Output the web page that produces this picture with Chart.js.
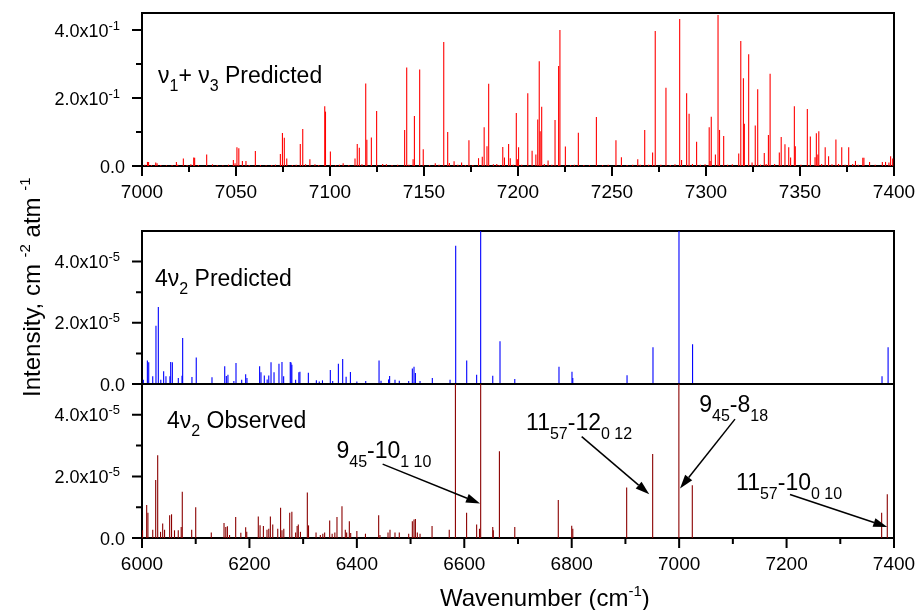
<!DOCTYPE html>
<html>
<head>
<meta charset="utf-8">
<script src="https://cdn.jsdelivr.net/npm/chart.js@4.4.1/dist/chart.umd.min.js"></script>
<style>
  html, body { margin: 0; padding: 0; background: #fff; }
  #figure { position: relative; width: 917px; height: 610px; overflow: hidden; background: #fff; }
  #figure canvas { position: absolute; left: 0; top: 0; }
</style>
</head>
<body>
<div id="figure">
  <canvas id="topPanel" width="917" height="610"></canvas>
  <canvas id="predPanel" width="917" height="610"></canvas>
  <canvas id="obsPanel" width="917" height="610"></canvas>
</div>
<script>
// nu1 + nu3 predicted line list (cm-1, intensity)
const topWave = [7001.5, 7002.9, 7003.5, 7005, 7007.3, 7008, 7010, 7013, 7016, 7018.3, 7019, 7022, 7024, 7026, 7027.5, 7028,
  7030, 7034.4, 7037.5, 7040, 7043, 7046, 7048.6, 7049.5, 7050.5, 7051.5, 7053.4, 7055.3, 7057, 7060.3, 7063, 7066,
  7069, 7071, 7073.6, 7074.7, 7075.7, 7077, 7080, 7082, 7084.2, 7085.5, 7087, 7089.3, 7092, 7094, 7097.2, 7097.6,
  7100.2, 7103, 7105, 7107, 7110, 7113.3, 7114.5, 7115.6, 7117, 7119, 7119.6, 7122, 7124.8, 7128, 7130, 7133,
  7136, 7139.7, 7140.8, 7142, 7144.2, 7144.9, 7147.7, 7149.6, 7153, 7156, 7158, 7160.5, 7162.6, 7163.5, 7166, 7168,
  7170, 7172, 7173.9, 7176, 7179, 7181, 7182, 7183.5, 7184.4, 7186.9, 7188.7, 7190, 7191.9, 7192.8, 7195, 7195.9,
  7197.5, 7199.1, 7199.8, 7200.3, 7202, 7205.2, 7207.5, 7209.5, 7210.5, 7211.3, 7211.8, 7212.6, 7214, 7216, 7218, 7219.7,
  7221.6, 7222.3, 7225.2, 7228, 7230, 7232.1, 7235, 7238, 7241.7, 7245, 7248, 7252.1, 7255, 7258, 7261, 7263.7,
  7265, 7267.4, 7269.5, 7271.6, 7273, 7276, 7278.7, 7281, 7283.5, 7286, 7287, 7289.7, 7291, 7292.8, 7295, 7297,
  7299.5, 7301.7, 7302.2, 7302.8, 7305, 7306.4, 7307.2, 7309.4, 7311.5, 7314, 7317.4, 7318.5, 7319.9, 7320.4, 7322.7, 7324.5,
  7326.2, 7327.5, 7329, 7331, 7332, 7333.2, 7334.1, 7336.5, 7339, 7340, 7342, 7344, 7345, 7347, 7347.5, 7350.5,
  7353.9, 7355.5, 7358, 7358.7, 7359.5, 7360, 7361.5, 7363.4, 7365.2, 7367, 7369.1, 7370.5, 7372.2, 7374, 7375.9, 7378,
  7379.5, 7381, 7383.4, 7384, 7387, 7390, 7393.8, 7395.5, 7397.3, 7398.2, 7399.3];
const topInt = [0.004, 0.012, 0.012, 0.003, 0.010, 0.008, 0.003, 0.002, 0.003, 0.012, 0.004, 0.022, 0.003, 0.005, 0.025, 0.024,
  0.003, 0.034, 0.005, 0.003, 0.002, 0.004, 0.018, 0.008, 0.055, 0.052, 0.015, 0.015, 0.003, 0.044, 0.003, 0.002,
  0.003, 0.004, 0.035, 0.097, 0.083, 0.022, 0.003, 0.004, 0.065, 0.109, 0.005, 0.020, 0.005, 0.003, 0.176, 0.160,
  0.043, 0.003, 0.004, 0.008, 0.003, 0.022, 0.065, 0.054, 0.005, 0.243, 0.077, 0.084, 0.162, 0.006, 0.005, 0.003,
  0.004, 0.106, 0.290, 0.004, 0.020, 0.147, 0.284, 0.049, 0.003, 0.008, 0.004, 0.365, 0.100, 0.009, 0.014, 0.004,
  0.010, 0.003, 0.076, 0.003, 0.023, 0.027, 0.114, 0.058, 0.242, 0.005, 0.006, 0.003, 0.056, 0.025, 0.065, 0.023,
  0.004, 0.156, 0.020, 0.055, 0.004, 0.214, 0.045, 0.034, 0.137, 0.308, 0.102, 0.174, 0.006, 0.016, 0.004, 0.135,
  0.294, 0.400, 0.057, 0.003, 0.004, 0.098, 0.003, 0.002, 0.144, 0.003, 0.004, 0.076, 0.026, 0.003, 0.004, 0.020,
  0.004, 0.106, 0.004, 0.040, 0.397, 0.004, 0.230, 0.003, 0.005, 0.432, 0.018, 0.214, 0.154, 0.006, 0.071, 0.004,
  0.005, 0.114, 0.015, 0.145, 0.034, 0.444, 0.106, 0.088, 0.004, 0.005, 0.037, 0.368, 0.258, 0.124, 0.329, 0.010,
  0.119, 0.226, 0.004, 0.038, 0.006, 0.091, 0.271, 0.006, 0.040, 0.085, 0.064, 0.055, 0.025, 0.176, 0.058, 0.004,
  0.168, 0.087, 0.026, 0.096, 0.034, 0.102, 0.006, 0.055, 0.029, 0.005, 0.078, 0.006, 0.055, 0.004, 0.055, 0.006,
  0.015, 0.004, 0.024, 0.024, 0.012, 0.004, 0.012, 0.012, 0.010, 0.029, 0.022];

// 4nu2 predicted line list
const predWave = [6002.5, 6010, 6012.5, 6020, 6026, 6030.4, 6035, 6040.3, 6044.6, 6052, 6053.4, 6056.5, 6067.6, 6074.5, 6075.7, 6093,
  6101, 6130.3, 6154, 6157, 6160, 6171, 6175, 6185.6, 6193, 6195.4, 6219, 6221.5, 6227.7, 6233, 6236, 6240.2,
  6245.8, 6255, 6260.6, 6263.7, 6276, 6277.5, 6279, 6286, 6292, 6294, 6309.7, 6324.6, 6330, 6336, 6350.6, 6355,
  6365.6, 6373.6, 6380, 6388, 6400, 6416.5, 6441.3, 6445, 6459, 6461, 6471, 6479, 6496.5, 6503.3, 6506.4, 6509,
  6517.6, 6540.5, 6573.5, 6584, 6604.5, 6623, 6630.5, 6653, 6666.5, 6694, 6776.3, 6800.5, 6802, 6903, 6951.3, 6999.7,
  7025, 7377.7, 7389];
const predInt = [0.14e-5, 0.77e-5, 0.71e-5, 0.25e-5, 1.90e-5, 2.52e-5, 0.14e-5, 0.42e-5, 0.25e-5, 0.25e-5, 0.72e-5, 0.71e-5, 0.20e-5, 0.27e-5, 1.50e-5, 0.23e-5,
  0.87e-5, 0.22e-5, 0.58e-5, 0.26e-5, 0.30e-5, 0.10e-5, 0.69e-5, 0.14e-5, 0.32e-5, 0.20e-5, 0.58e-5, 0.38e-5, 0.28e-5, 0.15e-5, 0.28e-5, 0.71e-5,
  0.38e-5, 0.66e-5, 0.72e-5, 0.25e-5, 0.72e-5, 0.70e-5, 0.63e-5, 0.14e-5, 0.38e-5, 0.40e-5, 0.37e-5, 0.12e-5, 0.08e-5, 0.12e-5, 0.46e-5, 0.10e-5,
  0.66e-5, 0.82e-5, 0.24e-5, 0.39e-5, 0.08e-5, 0.10e-5, 0.77e-5, 0.11e-5, 0.15e-5, 0.26e-5, 0.14e-5, 0.11e-5, 0.10e-5, 0.51e-5, 0.56e-5, 0.36e-5,
  0.10e-5, 0.20e-5, 0.14e-5, 4.52e-5, 0.77e-5, 0.30e-5, 5.6e-5, 0.27e-5, 1.40e-5, 0.16e-5, 0.56e-5, 0.40e-5, 0.20e-5, 0.29e-5, 1.20e-5, 6.0e-5,
  1.30e-5, 0.25e-5, 1.20e-5];

// 4nu2 observed line list
const obsWave = [6001, 6008.7, 6011, 6020, 6025.5, 6029.2, 6034.5, 6038.5, 6042, 6051.5, 6055, 6060.5, 6067.5, 6073, 6075, 6092.5,
  6100, 6129, 6152.7, 6156, 6159, 6163, 6174.4, 6184, 6193, 6195, 6216.5, 6219.8, 6226, 6232.7, 6236, 6239,
  6243.4, 6252.7, 6258, 6260.6, 6264, 6275, 6279, 6286, 6288.8, 6291, 6295, 6307.8, 6310, 6324, 6332, 6336.6,
  6340, 6349.4, 6354, 6359, 6363, 6372.3, 6378.5, 6381, 6386, 6388.5, 6400, 6416, 6440.6, 6443, 6458, 6461.7,
  6471, 6479, 6496.5, 6503.3, 6506.4, 6509, 6512.6, 6517.6, 6540, 6572, 6583.5, 6604.3, 6623, 6628.3, 6630.5, 6653,
  6654, 6665.4, 6694, 6775, 6800, 6802, 6902.3, 6950.7, 6999.5, 7024.5, 7377, 7387.5];
const obsInt = [0.25e-5, 1.07e-5, 0.82e-5, 0.27e-5, 1.88e-5, 2.69e-5, 0.20e-5, 0.47e-5, 0.27e-5, 0.74e-5, 0.77e-5, 0.25e-5, 0.25e-5, 0.36e-5, 1.50e-5, 0.27e-5,
  1.00e-5, 0.18e-5, 0.49e-5, 0.36e-5, 0.38e-5, 0.10e-5, 0.68e-5, 0.17e-5, 0.35e-5, 0.20e-5, 0.70e-5, 0.41e-5, 0.39e-5, 0.27e-5, 0.30e-5, 0.70e-5,
  0.44e-5, 0.30e-5, 0.98e-5, 0.25e-5, 0.30e-5, 0.82e-5, 0.85e-5, 0.18e-5, 0.39e-5, 0.44e-5, 0.20e-5, 1.48e-5, 0.41e-5, 0.18e-5, 0.10e-5, 0.14e-5,
  0.18e-5, 0.57e-5, 0.14e-5, 0.18e-5, 0.68e-5, 1.03e-5, 0.27e-5, 0.18e-5, 0.54e-5, 0.16e-5, 0.23e-5, 0.14e-5, 0.74e-5, 0.10e-5, 0.18e-5, 0.27e-5,
  0.18e-5, 0.18e-5, 0.14e-5, 0.54e-5, 0.60e-5, 0.62e-5, 0.18e-5, 0.14e-5, 0.39e-5, 0.27e-5, 5.8e-5, 0.82e-5, 0.44e-5, 0.30e-5, 6.2e-5, 0.36e-5,
  0.25e-5, 2.82e-5, 0.36e-5, 1.23e-5, 0.40e-5, 0.30e-5, 1.64e-5, 2.73e-5, 6.0e-5, 1.71e-5, 0.82e-5, 1.42e-5];

// axis ticks
const topXTicks = [7000, 7050, 7100, 7150, 7200, 7250, 7300, 7350, 7400];
const topXMinor = [7025, 7075, 7125, 7175, 7225, 7275, 7325, 7375];
const topYTicks = [0, 0.2, 0.4];
const topYMinor = [0.1, 0.3];
const lowXTicks = [6000, 6200, 6400, 6600, 6800, 7000, 7200, 7400];
const lowXMinor = [6100, 6300, 6500, 6700, 6900, 7100, 7300];
const lowYTicks = [0, 2e-5, 4e-5];
const lowYMinor = [1e-5, 3e-5];

// line assignments: label anchor, arrow start, arrow tip (wavenumber, intensity)
const assignments = [
  { parts: [['9', ''], ['45', 'sub'], ['-10', ''], ['1 10', 'sub']], at: [6362, 2.6e-5], from: [6448, 2.4e-5], to: [6629.3, 1.12e-5] },
  { parts: [['11', ''], ['57', 'sub'], ['-12', ''], ['0 12', 'sub']], at: [6715, 3.51e-5], from: [6818.6, 3.29e-5], to: [6944.4, 1.42e-5] },
  { parts: [['9', ''], ['45', 'sub'], ['-8', ''], ['18', 'sub']], at: [7037.5, 4.1e-5], from: [7104, 3.86e-5], to: [7001.6, 1.61e-5] },
  { parts: [['11', ''], ['57', 'sub'], ['-10', ''], ['0 10', 'sub']], at: [7106, 1.55e-5], from: [7206.4, 1.41e-5], to: [7387.5, 0.36e-5] }
];

const FONT = '"Liberation Sans", Arial, Helvetica, sans-serif';

function richWidth(ctx, parts, size, small) {
  let w = 0;
  for (const [t, k] of parts) {
    ctx.font = (k ? small : size) + 'px ' + FONT;
    w += ctx.measureText(t).width;
  }
  return w;
}

// draws text runs with sub/superscripts, left aligned at x, baseline y
function drawRich(ctx, x, y, parts, size, small, drop, rise) {
  let cx = x;
  ctx.textAlign = 'left';
  ctx.textBaseline = 'alphabetic';
  for (const [t, k] of parts) {
    ctx.font = (k ? small : size) + 'px ' + FONT;
    const dy = k === 'sub' ? drop : (k === 'sup' ? -rise : 0);
    ctx.fillText(t, cx, y + dy);
    cx += ctx.measureText(t).width;
  }
  return cx;
}

function drawArrow(ctx, x1, y1, x2, y2) {
  const ang = Math.atan2(y2 - y1, x2 - x1);
  const len = 14, half = 4.5;
  const bx = x2 - len * Math.cos(ang), by = y2 - len * Math.sin(ang);
  ctx.beginPath();
  ctx.lineWidth = 1.5;
  ctx.moveTo(x1, y1);
  ctx.lineTo(bx, by);
  ctx.stroke();
  ctx.beginPath();
  ctx.moveTo(x2, y2);
  ctx.lineTo(bx + half * Math.sin(ang), by - half * Math.cos(ang));
  ctx.lineTo(bx - half * Math.sin(ang), by + half * Math.cos(ang));
  ctx.closePath();
  ctx.fill();
}

// frame, ticks, tick labels and panel text
const panelPlugin = {
  id: 'panel',
  beforeDatasetsDraw(chart, args, o) {
    const ctx = chart.ctx, a = chart.chartArea;
    const xs = chart.scales.x, ys = chart.scales.y;
    ctx.save();
    ctx.strokeStyle = '#000';
    ctx.fillStyle = '#000';
    ctx.lineWidth = 2;
    ctx.strokeRect(a.left, a.top, a.right - a.left, a.bottom - a.top);

    ctx.beginPath();
    (o.xMajor || []).forEach(v => { const p = xs.getPixelForValue(v); ctx.moveTo(p, a.bottom); ctx.lineTo(p, a.bottom + 10); });
    (o.xMinor || []).forEach(v => { const p = xs.getPixelForValue(v); ctx.moveTo(p, a.bottom); ctx.lineTo(p, a.bottom + 6); });
    o.yMajor.forEach(v => { const p = ys.getPixelForValue(v); ctx.moveTo(a.left, p); ctx.lineTo(a.left - 10, p); });
    o.yMinor.forEach(v => { const p = ys.getPixelForValue(v); ctx.moveTo(a.left, p); ctx.lineTo(a.left - 6, p); });
    ctx.stroke();

    ctx.font = '19px ' + FONT;
    ctx.textAlign = 'center';
    ctx.textBaseline = 'alphabetic';
    (o.xMajor || []).forEach(v => ctx.fillText(String(v), xs.getPixelForValue(v), a.bottom + 32));

    o.yMajor.forEach(v => {
      const p = ys.getPixelForValue(v);
      if (v === 0) {
        const parts = [['0.0', '']];
        drawRich(ctx, 125 - richWidth(ctx, parts, 18, 13), p + 6.5, parts, 18, 13, 0, 7);
      } else {
        const parts = [[(v / Math.pow(10, o.yExp)).toFixed(1) + 'x10', ''], [String(o.yExp), 'sup']];
        drawRich(ctx, 120 - richWidth(ctx, parts, 18, 13), p + 6.5, parts, 18, 13, 0, 7);
      }
    });

    drawRich(ctx, a.left + o.label.dx, a.top + o.label.dy, o.label.parts, 23, 16, 8, 0);
    ctx.restore();
  },
  afterDraw(chart, args, o) {
    const ctx = chart.ctx;
    const xs = chart.scales.x, ys = chart.scales.y;
    ctx.save();
    ctx.fillStyle = '#000';
    ctx.strokeStyle = '#000';
    (o.notes || []).forEach(n => {
      drawRich(ctx, xs.getPixelForValue(n.at[0]), ys.getPixelForValue(n.at[1]), n.parts, 23, 16, 9, 0);
      drawArrow(ctx, xs.getPixelForValue(n.from[0]), ys.getPixelForValue(n.from[1]),
        xs.getPixelForValue(n.to[0]), ys.getPixelForValue(n.to[1]));
    });
    if (o.xTitle) {
      drawRich(ctx, 440, 606, [['Wavenumber (cm', ''], ['-1', 'sup'], [')', '']], 24, 15, 0, 10);
    }
    if (o.yTitle) {
      ctx.translate(40, 397);
      ctx.rotate(-Math.PI / 2);
      drawRich(ctx, 0, 0, [['Intensity, cm ', ''], ['-2', 'sup'], [' atm ', ''], ['-1', 'sup']], 24, 15, 0, 10);
    }
    ctx.restore();
  }
};

function makePanel(id, wave, inten, color, xMin, xMax, yMax, top, bottom, panel) {
  return new Chart(document.getElementById(id), {
    type: 'bar',
    data: {
      datasets: [{
        data: wave.map((w, i) => ({ x: w, y: inten[i] })),
        backgroundColor: color,
        borderWidth: 0,
        inflateAmount: 0,
        barThickness: 1.1
      }]
    },
    options: {
      responsive: false,
      animation: false,
      devicePixelRatio: 1,
      layout: { padding: { left: 142, right: 23, top: top, bottom: 610 - bottom } },
      scales: {
        x: { type: 'linear', min: xMin, max: xMax, offset: false, display: false },
        y: { min: 0, max: yMax, display: false }
      },
      plugins: { legend: { display: false }, tooltip: { enabled: false }, panel: panel }
    },
    plugins: [panelPlugin]
  });
}

makePanel('topPanel', topWave, topInt, '#ff0000', 7000, 7400, 0.45, 13, 166, {
  xMajor: topXTicks, xMinor: topXMinor, yMajor: topYTicks, yMinor: topYMinor, yExp: -1,
  label: { dx: 16, dy: 70, parts: [['ν', ''], ['1', 'sub'], ['+ ν', ''], ['3', 'sub'], [' Predicted', '']] }
});

makePanel('predPanel', predWave, predInt, '#0000ff', 6000, 7400, 5e-5, 231, 384, {
  yMajor: lowYTicks, yMinor: lowYMinor, yExp: -5, yTitle: true,
  label: { dx: 13, dy: 55, parts: [['4ν', ''], ['2', 'sub'], [' Predicted', '']] }
});

makePanel('obsPanel', obsWave, obsInt, '#8b0000', 6000, 7400, 5e-5, 384, 538, {
  xMajor: lowXTicks, xMinor: lowXMinor, yMajor: lowYTicks, yMinor: lowYMinor, yExp: -5, xTitle: true,
  notes: assignments,
  label: { dx: 25, dy: 44, parts: [['4ν', ''], ['2', 'sub'], [' Observed', '']] }
});
</script>
</body>
</html>
